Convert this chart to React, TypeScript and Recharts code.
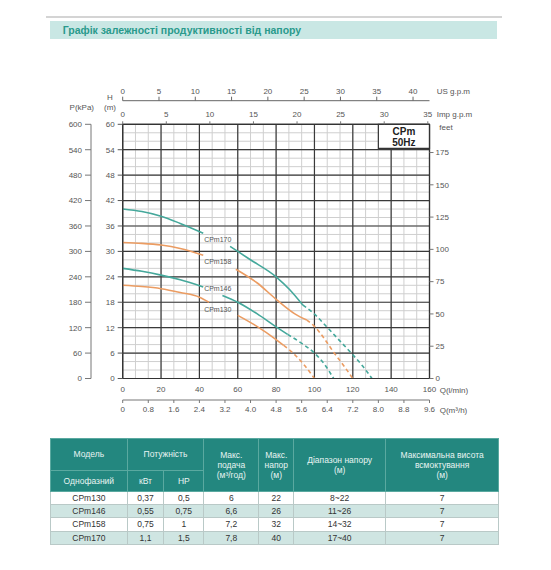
import {
  CartesianGrid,
  Line,
  LineChart,
  ReferenceArea,
  ReferenceDot,
  XAxis,
  YAxis,
} from "recharts";

// axis ticks
const qTicks = [0, 20, 40, 60, 80, 100, 120, 140, 160];
const m3Ticks = [0, 0.8, 1.6, 2.4, 3.2, 4.0, 4.8, 5.6, 6.4, 7.2, 8.0, 8.8, 9.6];
const usTicks = [0, 5, 10, 15, 20, 25, 30, 35, 40];
const impTicks = [0, 5, 10, 15, 20, 25, 30, 35];
const hTicks = [0, 6, 12, 18, 24, 30, 36, 42, 48, 54, 60];
const kpaTicks = [0, 60, 120, 180, 240, 300, 360, 420, 480, 540, 600];
const feetTicks = [0, 25, 50, 75, 100, 125, 150, 175];

// unit conversions to l/min
const LPM_PER_M3H = 1000 / 60;
const LPM_PER_USGPM = 3.78541;
const LPM_PER_IMPGPM = 4.54609;

// minor grid: thirds of the major steps
const minorQ = Array.from({ length: 25 }, (_, i) => (i * 20) / 3);
const minorH = Array.from({ length: 31 }, (_, i) => i * 2);

// curves (Q l/min, H m)
const cpm170Low = [
  { q: 0, h: 40 },
  { q: 10, h: 39.4 },
  { q: 20, h: 38.3 },
  { q: 30, h: 36.6 },
  { q: 42, h: 34.3 },
];
const cpm170High = [
  { q: 56, h: 31.2 },
  { q: 66, h: 28.2 },
  { q: 80, h: 24 },
  { q: 87, h: 21 },
  { q: 94, h: 17.3 },
];
const cpm170Ext = [
  { q: 94, h: 17.3 },
  { q: 100, h: 15.2 },
  { q: 106, h: 12.4 },
  { q: 113, h: 9 },
  { q: 120, h: 5.6 },
  { q: 125, h: 3 },
  { q: 130, h: 0 },
];

const cpm158Low = [
  { q: 0, h: 32.1 },
  { q: 10, h: 31.9 },
  { q: 20, h: 31.5 },
  { q: 30, h: 30.7 },
  { q: 42, h: 29.1 },
];
const cpm158High = [
  { q: 59, h: 25.8 },
  { q: 70, h: 22.6 },
  { q: 80, h: 18.7 },
  { q: 90, h: 15.2 },
  { q: 96, h: 13.8 },
];
const cpm158Ext = [
  { q: 96, h: 13.8 },
  { q: 100, h: 12.3 },
  { q: 105, h: 9.5 },
  { q: 110, h: 6.2 },
  { q: 115, h: 3.2 },
  { q: 120, h: 0 },
];

const cpm146Low = [
  { q: 0, h: 26 },
  { q: 10, h: 25.3 },
  { q: 20, h: 24.4 },
  { q: 30, h: 23.3 },
  { q: 42, h: 21.6 },
];
const cpm146High = [
  { q: 52, h: 19.6 },
  { q: 60, h: 18 },
  { q: 70, h: 15.3 },
  { q: 80, h: 12.2 },
  { q: 86, h: 10.4 },
];
const cpm146Ext = [
  { q: 86, h: 10.4 },
  { q: 93, h: 8.4 },
  { q: 100, h: 6 },
  { q: 105, h: 3.5 },
  { q: 110, h: 0 },
];

const cpm130Low = [
  { q: 0, h: 22 },
  { q: 10, h: 21.7 },
  { q: 20, h: 21.2 },
  { q: 30, h: 20.3 },
  { q: 40, h: 19.2 },
  { q: 45, h: 18 },
];
const cpm130High = [
  { q: 60, h: 14.9 },
  { q: 70, h: 12.3 },
  { q: 80, h: 9.2 },
  { q: 84, h: 7.8 },
];
const cpm130Ext = [
  { q: 84, h: 7.8 },
  { q: 90, h: 5.5 },
  { q: 95, h: 3 },
  { q: 100, h: 0 },
];

const curveLabels = [
  { name: "CPm170", q: 43, h: 32.8 },
  { name: "CPm158", q: 43, h: 27.4 },
  { name: "CPm146", q: 43, h: 21.2 },
  { name: "CPm130", q: 43, h: 16.2 },
];

// table
const models = ["CPm130", "CPm146", "CPm158", "CPm170"];
const powerKw = ["0,37", "0,55", "0,75", "1,1"];
const powerHp = ["0,5", "0,75", "1", "1,5"];
const maxFlow = ["6", "6,6", "7,2", "7,8"];
const maxHead = ["22", "26", "32", "40"];
const headRange = ["8~22", "11~26", "14~32", "17~40"];
const suction = ["7", "7", "7", "7"];

const TEAL = "#45a89b";
const ORANGE = "#eb9c62";
const AXIS_TEXT = "#555";
const FONT = "'Liberation Sans', Arial, sans-serif";

const tick = { fontSize: 8, fill: AXIS_TEXT, fontFamily: FONT };

const title =
  (lines: string[], dx: number, dy: number, anchor: "start" | "middle" | "end" = "start") =>
  (props: any) => {
    const vb = props.viewBox || { x: 0, y: 0 };
    return (
      <text textAnchor={anchor} fontSize={8} fill={AXIS_TEXT} fontFamily={FONT}>
        {lines.map((s, i) => (
          <tspan key={i} x={vb.x + dx} y={vb.y + dy + i * 10}>
            {s}
          </tspan>
        ))}
      </text>
    );
  };

const curveName = (name: string) => (props: any) => {
  const vb = props.viewBox || { x: 0, y: 0 };
  return (
    <text x={vb.x} y={vb.y + 3} fontSize={7} fill="#555" fontFamily={FONT}>
      {name}
    </text>
  );
};

const boxLabel = (props: any) => {
  const vb = props.viewBox || { x: 0, y: 0, width: 0 };
  const cx = vb.x + vb.width / 2;
  return (
    <text textAnchor="middle" fontSize={10} fontWeight="bold" fill="#222" fontFamily={FONT}>
      <tspan x={cx} y={vb.y + 11}>
        CPm
      </tspan>
      <tspan x={cx} y={vb.y + 21.5}>
        50Hz
      </tspan>
    </text>
  );
};

const segments = [
  { d: cpm170Low, c: TEAL },
  { d: cpm170High, c: TEAL },
  { d: cpm170Ext, c: TEAL, dashed: true },
  { d: cpm158Low, c: ORANGE },
  { d: cpm158High, c: ORANGE },
  { d: cpm158Ext, c: ORANGE, dashed: true },
  { d: cpm146Low, c: TEAL },
  { d: cpm146High, c: TEAL },
  { d: cpm146Ext, c: TEAL, dashed: true },
  { d: cpm130Low, c: ORANGE },
  { d: cpm130High, c: ORANGE },
  { d: cpm130Ext, c: ORANGE, dashed: true },
];

// a root table so axes without their own series still get a scale
const rootData = qTicks.map((q) => ({ q }));

// every horizontal axis runs on the l/min scale; the others only relabel it
const fmtM3 = (q: number) => {
  const v = Math.round((q / LPM_PER_M3H) * 10) / 10;
  return v === 0 ? "0" : v.toFixed(1);
};
const fmtUs = (q: number) => String(Math.round(q / LPM_PER_USGPM));
const fmtImp = (q: number) => String(Math.round(q / LPM_PER_IMPGPM));

function Chart() {
  const shared = {
    type: "number" as const,
    dataKey: "q",
    domain: [0, 160],
    allowDataOverflow: true,
    interval: 0 as const,
    tick,
  };
  return (
    <LineChart
      width={551}
      height={440}
      data={rootData}
      margin={{ top: 76.7, right: 91.5, bottom: 20, left: 61 }}
    >
      <XAxis
        {...shared}
        xAxisId="b1"
        orientation="bottom"
        ticks={qTicks}
        height={21.5}
        tickSize={0}
        tickMargin={8}
        axisLine={{ stroke: "#333", strokeWidth: 1.2 }}
        label={{ content: title(["Q(l/min)"], 317, 14) }}
      />
      <XAxis
        {...shared}
        xAxisId="b2"
        orientation="bottom"
        ticks={m3Ticks.map((v) => v * LPM_PER_M3H)}
        tickFormatter={fmtM3}
        height={20}
        tickSize={3}
        tickMargin={3}
        axisLine={{ stroke: "#777" }}
        tickLine={{ stroke: "#777" }}
        label={{ content: title(["Q(m³/h)"], 317, 13) }}
      />
      <XAxis
        {...shared}
        xAxisId="t1"
        orientation="top"
        ticks={impTicks.map((v) => v * LPM_PER_IMPGPM)}
        tickFormatter={fmtImp}
        height={23.6}
        tickSize={3}
        tickMargin={4}
        axisLine={{ stroke: "#333", strokeWidth: 1.2 }}
        tickLine={{ stroke: "#777" }}
        label={{ content: title(["Imp  g.p.m"], 314, 15.8) }}
      />
      <XAxis
        {...shared}
        xAxisId="t2"
        orientation="top"
        ticks={usTicks.map((v) => v * LPM_PER_USGPM)}
        tickFormatter={fmtUs}
        height={24}
        tickSize={4}
        tickMargin={2.5}
        axisLine={{ stroke: "#666" }}
        tickLine={{ stroke: "#666" }}
        label={{ content: title(["US  g.p.m"], 314, 16.8) }}
      />
      <XAxis {...shared} xAxisId="zx" ticks={minorQ} hide />

      <YAxis
        yAxisId="l1"
        type="number"
        orientation="left"
        domain={[0, 60]}
        ticks={hTicks}
        allowDataOverflow
        width={31.7}
        tickSize={5}
        tickMargin={3}
        tick={tick}
        interval={0}
        axisLine={{ stroke: "#333", strokeWidth: 1.2 }}
        tickLine={{ stroke: "#555" }}
        label={{ content: title(["H", "(m)"], 19, -24.8, "middle") }}
      />
      <YAxis
        yAxisId="l2"
        type="number"
        orientation="left"
        domain={[0, 600]}
        ticks={kpaTicks}
        allowDataOverflow
        width={30}
        tickSize={6}
        tickMargin={3}
        tick={tick}
        interval={0}
        axisLine={{ stroke: "#777" }}
        tickLine={{ stroke: "#777" }}
        label={{ content: title(["P(kPa)"], 33, -14.8, "end") }}
      />
      <YAxis
        yAxisId="r1"
        type="number"
        orientation="right"
        domain={[0, 60 / 0.3048]}
        ticks={feetTicks}
        allowDataOverflow
        width={30}
        tickSize={4}
        tickMargin={2}
        tick={tick}
        interval={0}
        axisLine={{ stroke: "#333", strokeWidth: 1.2 }}
        tickLine={{ stroke: "#777" }}
        label={{ content: title(["feet"], 16.5, 5.7, "middle") }}
      />
      <YAxis yAxisId="zy" type="number" domain={[0, 60]} ticks={minorH} interval={0} hide allowDataOverflow />

      <CartesianGrid xAxisId="zx" yAxisId="zy" stroke="#cfcfcf" strokeWidth={1} />
      <CartesianGrid xAxisId="b1" yAxisId="l1" stroke="#3a3a3a" strokeWidth={1.2} />

      {segments.map((s, i) => (
        <Line
          key={i}
          data={s.d}
          dataKey="h"
          xAxisId="b1"
          yAxisId="l1"
          type="monotone"
          stroke={s.c}
          strokeWidth={1.6}
          strokeDasharray={s.dashed ? "4 3" : undefined}
          dot={false}
          activeDot={false}
          isAnimationActive={false}
        />
      ))}

      {curveLabels.map((l) => (
        <ReferenceDot
          key={l.name}
          xAxisId="b1"
          yAxisId="l1"
          x={l.q}
          y={l.h}
          r={1}
          fill="none"
          stroke="none"
          label={{ content: curveName(l.name) }}
        />
      ))}

      <ReferenceArea
        xAxisId="b1"
        yAxisId="l1"
        x1={133.33}
        x2={160}
        y1={54.3}
        y2={60}
        fill="#fff"
        fillOpacity={1}
        stroke="#333"
        strokeWidth={1.2}
        label={{ content: boxLabel }}
      />
    </LineChart>
  );
}

const cell: React.CSSProperties = {
  border: "1px solid #b9c9c7",
  padding: 0,
  textAlign: "center",
  verticalAlign: "middle",
};
const head: React.CSSProperties = {
  ...cell,
  border: "1px solid #5aa9a0",
  background: "#23877f",
  color: "#e8f4f2",
  lineHeight: "10px",
  fontWeight: "normal",
};

function SpecTable() {
  const widths = [76.7, 36.6, 40, 55, 35, 91.7, 113.3];
  return (
    <table
      style={{
        position: "absolute",
        left: 50,
        top: 438,
        width: 448,
        borderCollapse: "collapse",
        tableLayout: "fixed",
        fontSize: 8.5,
        fontFamily: FONT,
        color: "#333",
      }}
    >
      <colgroup>
        {widths.map((w, i) => (
          <col key={i} style={{ width: w }} />
        ))}
      </colgroup>
      <thead>
        <tr style={{ height: 31.7 }}>
          <th style={head}>Модель</th>
          <th style={head} colSpan={2}>
            Потужність
          </th>
          <th style={head} rowSpan={2}>
            Макс.
            <br />
            подача
            <br />
            (м³/год)
          </th>
          <th style={head} rowSpan={2}>
            Макс.
            <br />
            напор
            <br />
            (м)
          </th>
          <th style={head} rowSpan={2}>
            Діапазон напору
            <br />
            (м)
          </th>
          <th style={head} rowSpan={2}>
            Максимальна висота
            <br />
            всмоктування
            <br />
            (м)
          </th>
        </tr>
        <tr style={{ height: 21 }}>
          <th style={head}>Однофазний</th>
          <th style={head}>кВт</th>
          <th style={head}>HP</th>
        </tr>
      </thead>
      <tbody>
        {models.map((m, i) => (
          <tr key={m} style={{ height: 13.3, background: i % 2 ? "#cfe5e2" : "#fff" }}>
            <td style={cell}>{m}</td>
            <td style={cell}>{powerKw[i]}</td>
            <td style={cell}>{powerHp[i]}</td>
            <td style={cell}>{maxFlow[i]}</td>
            <td style={cell}>{maxHead[i]}</td>
            <td style={cell}>{headRange[i]}</td>
            <td style={cell}>{suction[i]}</td>
          </tr>
        ))}
      </tbody>
    </table>
  );
}

export default function App() {
  return (
    <div
      style={{
        position: "absolute",
        left: 0,
        top: 0,
        width: 551,
        height: 570,
        background: "#fff",
        fontFamily: FONT,
        overflow: "hidden",
      }}
    >
      <div style={{ position: "absolute", left: 46, top: 15.7, width: 456, height: 2, background: "#d4d4d4" }} />
      <div
        style={{
          position: "absolute",
          left: 50,
          top: 20.7,
          width: 447,
          height: 18.6,
          background: "#c9e7e4",
          color: "#2a9a8c",
          fontWeight: "bold",
          fontSize: 10.5,
          lineHeight: "18.6px",
          paddingLeft: 12.7,
          boxSizing: "border-box",
        }}
      >
        Графік залежності продуктивності від напору
      </div>
      <div style={{ position: "absolute", left: 0, top: 0 }}>
        <Chart />
      </div>
      <SpecTable />
    </div>
  );
}
